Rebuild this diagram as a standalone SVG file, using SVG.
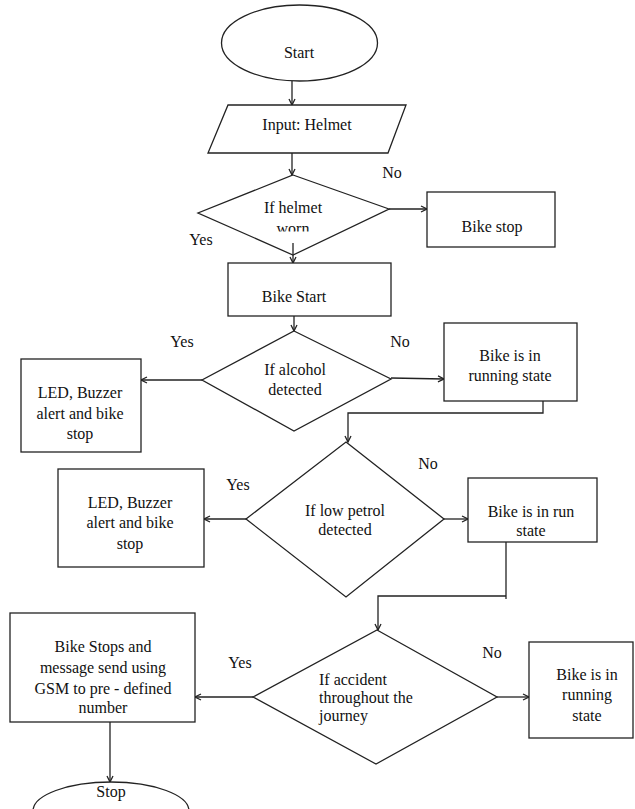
<svg xmlns="http://www.w3.org/2000/svg" width="635" height="809" viewBox="0 0 635 809">
<defs>
<style>
.s{fill:#fff;stroke:#222;stroke-width:1.3}
.c{fill:none;stroke:#222;stroke-width:1.3}
text{font-size:16px;fill:#111}
.m{text-anchor:middle}
</style>
<marker id="a" markerWidth="8" markerHeight="8" refX="7" refY="4" orient="auto" markerUnits="userSpaceOnUse">
<path d="M1,1 L7,4 L1,7" fill="none" stroke="#222" stroke-width="1.3"/>
</marker>
<clipPath id="wc"><rect x="200" y="215" width="190" height="16.5"/></clipPath>
</defs>
<rect width="635" height="809" fill="#fff"/>

<g id="connectors" class="c">
<line x1="292" y1="81" x2="292" y2="105" marker-end="url(#a)"/>
<line x1="292" y1="153" x2="292" y2="175" marker-end="url(#a)"/>
<line x1="389" y1="209" x2="427" y2="209" marker-end="url(#a)"/>
<line x1="294" y1="316" x2="294" y2="331" marker-end="url(#a)"/>
<line x1="202" y1="380" x2="141" y2="380" marker-end="url(#a)"/>
<line x1="391" y1="378" x2="444" y2="379" marker-end="url(#a)"/>
<polyline points="543,401 543,413 348,413 348,442" marker-end="url(#a)"/>
<line x1="246" y1="519" x2="204" y2="519" marker-end="url(#a)"/>
<line x1="444" y1="519" x2="468" y2="519" marker-end="url(#a)"/>
<line x1="506" y1="542" x2="506" y2="599"/>
<polyline points="506,596 378,596 378,630" marker-end="url(#a)"/>
<line x1="253" y1="697" x2="195" y2="697" marker-end="url(#a)"/>
<line x1="497" y1="697" x2="529" y2="697" marker-end="url(#a)"/>
<line x1="110" y1="722" x2="110" y2="782" marker-end="url(#a)"/>
</g>

<g font-family="'Liberation Serif', 'DejaVu Serif', serif">
<g id="start">
<ellipse class="s" cx="299.5" cy="43" rx="78" ry="38"/>
<text class="m" x="299" y="58">Start</text>
</g>

<g id="input-helmet">
<polygon class="s" points="228,105 406,105 388,153 208,153"/>
<text class="m" x="307" y="130">Input: Helmet</text>
</g>

<g id="helmet-worn">
<polygon class="s" points="293,175 389,209 293,255 198,213"/>
<text class="m" x="293" y="213">If helmet</text>
<text class="m" x="293" y="233.5" clip-path="url(#wc)">worn</text>
<line x1="222" y1="226.5" x2="228" y2="229" stroke="#fff" stroke-width="2"/>
</g>
<line class="c" x1="293" y1="243" x2="293" y2="263" marker-end="url(#a)"/>

<g id="labels1">
<text class="m" x="392" y="178">No</text>
<text class="m" x="201" y="245">Yes</text>
</g>

<g id="bike-stop">
<rect class="s" x="427" y="192" width="128" height="55"/>
<text class="m" x="492" y="232">Bike stop</text>
</g>

<g id="bike-start">
<rect class="s" x="228" y="263" width="163" height="53"/>
<text class="m" x="294" y="302">Bike Start</text>
</g>

<g id="alcohol">
<polygon class="s" points="294,331 391,379 294,431 202,380"/>
<text class="m" x="295" y="375">If alcohol</text>
<text class="m" x="295" y="395">detected</text>
</g>
<text class="m" x="182" y="347">Yes</text>
<text class="m" x="400" y="347">No</text>

<g id="led1">
<rect class="s" x="21" y="359" width="120" height="93"/>
<text class="m" x="80" y="398">LED, Buzzer</text>
<text class="m" x="80" y="419">alert and bike</text>
<text class="m" x="80" y="439">stop</text>
</g>

<g id="running1">
<rect class="s" x="444" y="323" width="133" height="78"/>
<text class="m" x="510" y="361">Bike is in</text>
<text class="m" x="510" y="381">running state</text>
</g>

<g id="petrol">
<polygon class="s" points="346,442 444,519 346,597 246,519"/>
<text class="m" x="345" y="516">If low petrol</text>
<text class="m" x="345" y="535">detected</text>
</g>
<text class="m" x="238" y="490">Yes</text>
<text class="m" x="428" y="469">No</text>

<g id="led2">
<rect class="s" x="58" y="469" width="146" height="98"/>
<text class="m" x="130" y="508">LED, Buzzer</text>
<text class="m" x="130" y="528">alert and bike</text>
<text class="m" x="130" y="549">stop</text>
</g>

<g id="run-state">
<rect class="s" x="468" y="478" width="129" height="64"/>
<text class="m" x="531" y="517">Bike is in run</text>
<text class="m" x="531" y="536">state</text>
</g>

<g id="accident">
<polygon class="s" points="377,630 497,697 376,764 253,697"/>
<text x="319" y="685">If accident</text>
<text x="319" y="703">throughout the</text>
<text x="319" y="721">journey</text>
</g>
<text class="m" x="240" y="668">Yes</text>
<text class="m" x="492" y="658">No</text>

<g id="bike-stops-gsm">
<rect class="s" x="10" y="613" width="185" height="109"/>
<text class="m" x="103" y="652">Bike Stops and</text>
<text class="m" x="103" y="673">message send using</text>
<text class="m" x="103" y="694">GSM to pre - defined</text>
<text class="m" x="103" y="713">number</text>
</g>

<g id="running2">
<rect class="s" x="529" y="642" width="104" height="96"/>
<text class="m" x="587" y="680">Bike is in</text>
<text class="m" x="587" y="700">running</text>
<text class="m" x="587" y="721">state</text>
</g>

<g id="stop">
<ellipse class="s" cx="111" cy="811" rx="78" ry="29"/>
<text class="m" x="111" y="797">Stop</text>
</g>
</g>
</svg>
